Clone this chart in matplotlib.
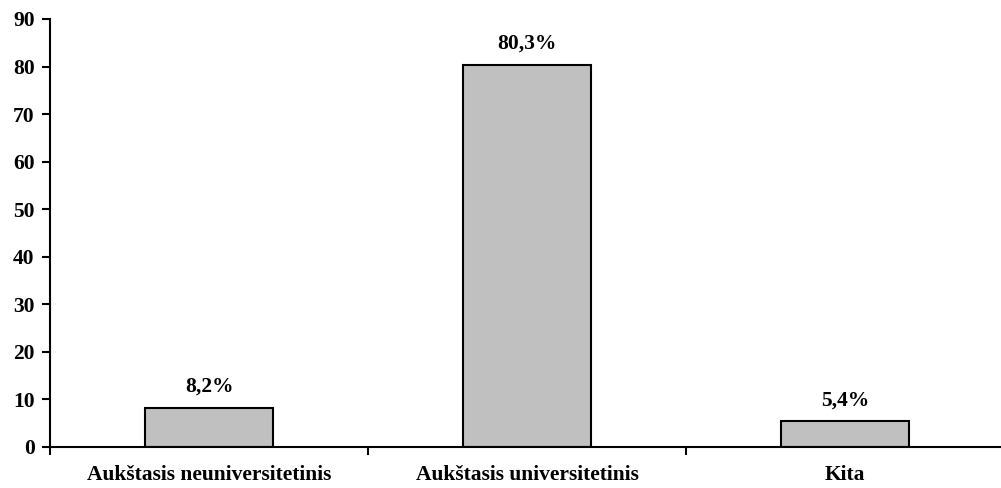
import matplotlib.pyplot as plt
import numpy as np

# data
categories = ['Aukštasis neuniversitetinis', 'Aukštasis universitetinis', 'Kita']
values = [8.2, 80.3, 5.4]
labels = ['8,2%', '80,3%', '5,4%']

plt.rcParams['font.family'] = ['Liberation Serif', 'DejaVu Serif']
plt.rcParams['font.weight'] = 'bold'

fig = plt.figure(figsize=(10.01, 4.88), dpi=100)
ax = fig.add_axes([50 / 1001, 41 / 488, 954 / 1001, 428 / 488])

x = np.arange(len(categories))
ax.bar(x, values, width=0.4, color='#C0C0C0', edgecolor='black', linewidth=1.5)
for xi, v, lab in zip(x, values, labels):
    ax.annotate(lab, (xi, v), xytext=(0, 8), textcoords='offset points',
                ha='center', va='bottom', fontsize=15.5, fontweight='bold')

ax.set_xlim(-0.5, 2.5)
ax.set_ylim(0, 90)
ax.set_yticks(range(0, 91, 10))
ax.set_xticks(x)
ax.set_xticklabels(categories, fontsize=15.5, fontweight='bold')
ax.tick_params(axis='x', length=0, pad=13)
ax.set_xticks([-0.5, 0.5, 1.5], minor=True)
ax.tick_params(axis='x', which='minor', length=6, width=1.5, direction='out')
ax.tick_params(axis='y', length=6, width=1.5, labelsize=15.5, pad=5)
for t in ax.get_yticklabels():
    t.set_fontweight('bold')

ax.spines['top'].set_visible(False)
ax.spines['right'].set_visible(False)
ax.spines['left'].set_linewidth(1.5)
ax.spines['bottom'].set_linewidth(1.5)

fig.savefig('out.png', dpi=100)
